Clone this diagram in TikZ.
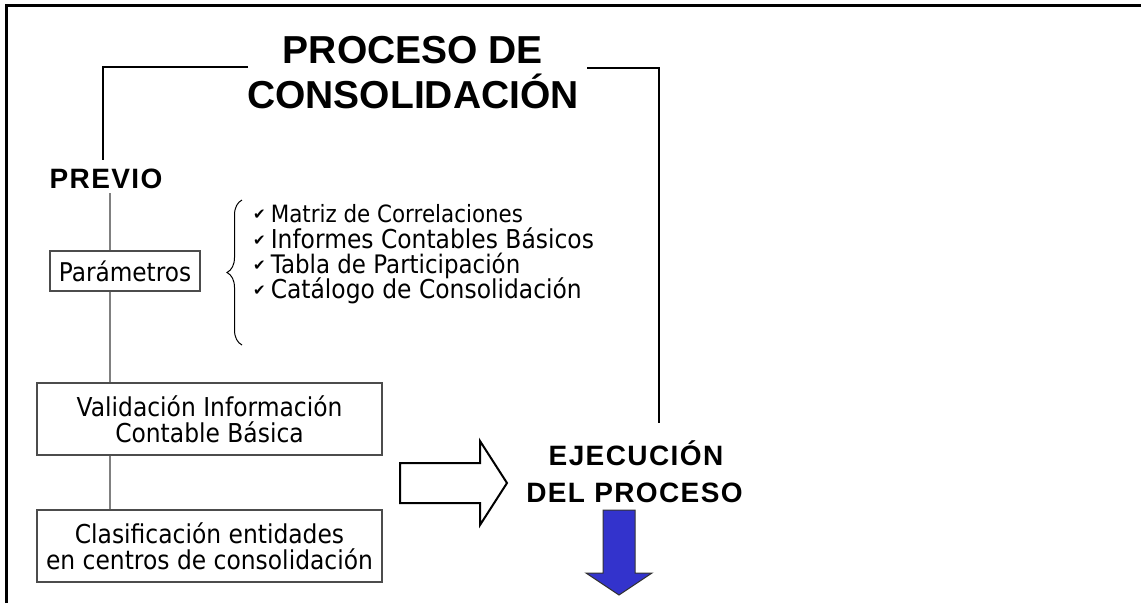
\documentclass[tikz,border=0pt]{standalone}
\usepackage{fontspec}
\setmainfont{Liberation Sans}
\newfontfamily\bodyf{DejaVu Sans}[FakeStretch=0.9]
\newfontfamily\hfont{Liberation Sans}[LetterSpace=5]
\newfontfamily\symf{DejaVu Sans}
\usetikzlibrary{decorations.pathreplacing}
\newcommand\chk{{\symf\fontsize{15}{15}\selectfont\raisebox{2.5pt}{✔}}\hspace{5pt}}
\newcommand\fs[1]{\fontsize{#1}{#1}\selectfont}
\begin{document}
\begin{tikzpicture}[x=1pt,y=-1pt,
  box/.style={draw=black!70, line width=1.3pt, inner sep=0pt, align=center,
    font=\bodyf\fontsize{26}{26}\selectfont},
  listitem/.style={anchor=base west, inner sep=0pt, font=\bodyf},
  head/.style={anchor=base, inner sep=0pt, font=\hfont\bfseries\fontsize{28}{28}\selectfont},
  titletxt/.style={anchor=base, inner sep=0pt, font=\bfseries\fontsize{39}{39}\selectfont},
  grayline/.style={draw=black!50, line width=1.5pt},
  frameline/.style={line width=3pt},
]
\useasboundingbox (0,0) rectangle (1141,603);
\fill[white] (0,0) rectangle (1141,603);
\draw[frameline] (6,603) -- (6,5) -- (1141,5);

% title
\node[titletxt] (t1) at (413,63) {PROCESO DE};
\node[titletxt] (t2) at (413,108) {CONSOLIDACIÓN};

% left column
\node[head] (previo) at (106,188) {PREVIO};
\node[box, minimum width=150, minimum height=40, font=\bodyf\fs{25.8}] (param) at (125,271) {Parámetros};
\node[box, minimum width=345, minimum height=72] (valid) at (209.5,419) {Validación Información\\Contable Básica};
\node[box, minimum width=345, minimum height=72] (clas) at (209.5,546) {Clasificación entidades\\en centros de consolidación};

\coordinate (p0) at (110,193);
\draw[grayline] (p0) -- (p0 |- param.north);
\draw[grayline] (param.south -| p0) -- (valid.north -| p0);
\draw[grayline] (valid.south -| p0) -- (clas.north -| p0);

% list
\node[listitem] (l1) at (253,222) {\chk{\fs{23.8}Matriz de Correlaciones}};
\node[listitem] (l2) at (253,248) {\chk{\fs{26}Informes Contables Básicos}};
\node[listitem] (l3) at (253,273) {\chk{\fs{25.5}Tabla de Participación}};
\node[listitem] (l4) at (253,298) {\chk{\fs{26}Catálogo de Consolidación}};
\coordinate (bb) at (242,345);
\coordinate (bt) at (242,200);
\draw[decorate, decoration={brace, amplitude=15pt, aspect=0.5}, line width=1pt] (bb) -- (bt);

% execution
\node[head] (ej1) at (636,465) {EJECUCIÓN};
\node[head] (ej2) at (634.5,502) {DEL PROCESO};

% title connectors
\coordinate (tl) at (248,67);
\coordinate (pv) at (103,160);
\draw[line width=1.2pt] (tl) -| (pv);
\coordinate (tr) at (587,68);
\coordinate (ej) at (659,423);
\draw[line width=2pt] (tr) -| (ej);

% hollow arrow
\draw[line width=2pt, fill=white] (400,463) -- (480,463) -- (480,441) -- (507,483)
  -- (480,525) -- (480,503) -- (400,503) -- cycle;

% blue arrow
\draw[fill={rgb,255:red,51;green,51;blue,204}, draw=black!80, line width=1pt]
  (603,510) -- (635,510) -- (635,573) -- (652,573) -- (619,595) -- (586,573) -- (603,573) -- cycle;
\end{tikzpicture}
\end{document}
